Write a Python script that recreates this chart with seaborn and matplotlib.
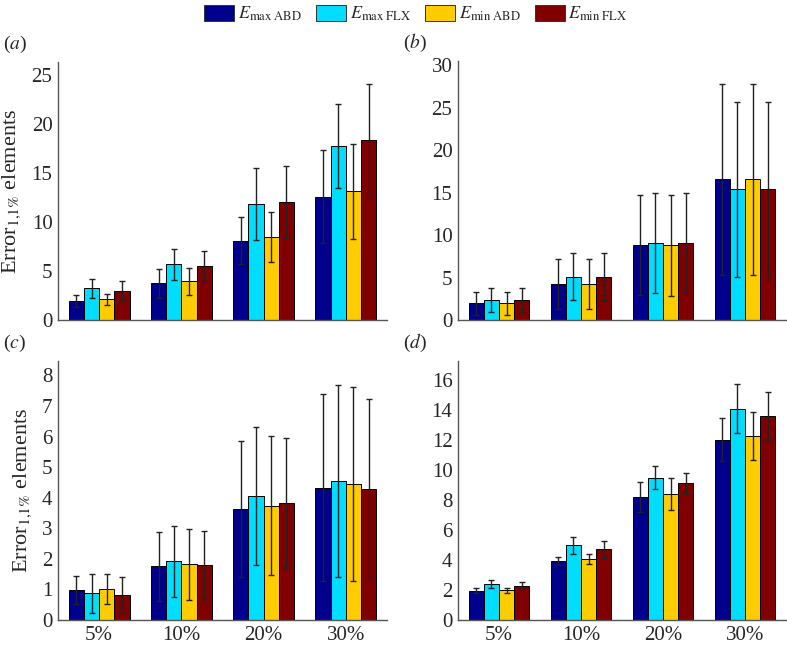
import numpy as np
import pandas as pd
import matplotlib
matplotlib.use("Agg")
import matplotlib.pyplot as plt
import seaborn as sns
from matplotlib.patches import Patch

# noise levels on the x axis
noise = ["5%", "10%", "20%", "30%"]
series = ["max ABD", "max FLX", "min ABD", "min FLX"]
colors = ["#00008C", "#00DDFF", "#FFCC00", "#800000"]

# panel (a)
a_vals = [[1.97, 3.74, 8.10, 12.55],
          [3.23, 5.68, 11.84, 17.72],
          [2.10, 3.95, 8.44, 13.13],
          [3.00, 5.51, 12.04, 18.30]]
a_err = [[0.60, 1.46, 2.40, 4.75],
         [1.00, 1.56, 3.70, 4.30],
         [0.60, 1.40, 2.55, 4.85],
         [0.95, 1.50, 3.70, 5.80]]

# panel (b)
b_vals = [[1.96, 4.24, 8.82, 16.59],
          [2.35, 5.10, 9.06, 15.41],
          [1.96, 4.24, 8.78, 16.59],
          [2.35, 5.10, 9.06, 15.41]]
b_err = [[1.37, 2.90, 5.90, 11.25],
         [1.40, 2.75, 5.90, 10.30],
         [1.37, 2.90, 5.95, 11.25],
         [1.40, 2.75, 5.90, 10.30]]

# panel (c)
c_vals = [[0.98, 1.76, 3.62, 4.33],
          [0.87, 1.92, 4.06, 4.56],
          [1.00, 1.82, 3.74, 4.46],
          [0.82, 1.80, 3.82, 4.29]]
c_err = [[0.47, 1.13, 2.22, 3.07],
         [0.64, 1.16, 2.25, 3.14],
         [0.49, 1.17, 2.28, 3.17],
         [0.60, 1.10, 2.13, 2.95]]

# panel (d)
d_vals = [[1.96, 3.96, 8.20, 12.05],
          [2.38, 4.99, 9.51, 14.12],
          [1.98, 4.05, 8.40, 12.27],
          [2.29, 4.72, 9.13, 13.63]]
d_err = [[0.16, 0.27, 1.00, 1.42],
         [0.27, 0.58, 0.76, 1.65],
         [0.18, 0.33, 1.07, 1.60],
         [0.22, 0.58, 0.71, 1.63]]

panels = [
    ("a", a_vals, a_err, 26.3, [0, 5, 10, 15, 20, 25]),
    ("b", b_vals, b_err, 30.5, [0, 5, 10, 15, 20, 25, 30]),
    ("c", c_vals, c_err, 8.47, list(range(0, 9))),
    ("d", d_vals, d_err, 17.3, list(range(0, 17, 2))),
]

sns.set_style("white")
plt.rcParams['font.family'] = ['Liberation Serif', 'DejaVu Serif']
plt.rcParams['mathtext.fontset'] = 'stix'

fig = plt.figure(figsize=(7.87, 6.45), dpi=100)
W, H = 787, 645
boxes = [(58, 62, 387, 320), (458, 61, 786, 320),
         (58, 361, 387, 620), (458, 361, 786, 620)]

for (lab, vals, errs, ytop, yt), (x0, y0, x1, y1) in zip(panels, boxes):
    ax = fig.add_axes([x0 / W, 1 - y1 / H, (x1 - x0) / W, (y1 - y0) / H])
    rows = []
    for s, v, e in zip(series, vals, errs):
        for n, vi, ei in zip(noise, v, e):
            rows.append({"noise": n, "series": s, "value": vi, "err": ei})
    df = pd.DataFrame(rows)
    sns.barplot(data=df, x="noise", y="value", hue="series", palette=colors,
                hue_order=series, order=noise, errorbar=None, width=0.74,
                saturation=1, edgecolor="black", linewidth=0.7, legend=False, ax=ax)
    # error bars on top of the bars seaborn placed
    for cont, e in zip(ax.containers, errs):
        xs = [b.get_x() + b.get_width() / 2 for b in cont]
        ys = [b.get_height() for b in cont]
        ax.errorbar(xs, ys, yerr=e, fmt="none", ecolor="#222222",
                    elinewidth=1.0, capsize=2.5, capthick=1.0)
    ax.set_xlim(-0.5, 3.5)
    ax.set_ylim(0, ytop)
    ax.set_yticks(yt)
    ax.tick_params(axis="both", length=0, labelsize=15, pad=4)
    ax.set_xlabel("")
    ax.set_ylabel("")
    for sp in ["top", "right"]:
        ax.spines[sp].set_visible(False)
    for sp in ["left", "bottom"]:
        ax.spines[sp].set_color("#555555")
        ax.spines[sp].set_linewidth(1.0)
    if lab in ("a", "b"):
        ax.set_xticklabels([])
    if lab in ("a", "c"):
        ax.set_ylabel(r"Error$_{\mathrm{1{,}1\%}}$ elements", fontsize=16, labelpad=6)
    fig.text((x0 - 55) / W, 1 - (y0 - 18) / H, "(" + r"$\it{" + lab + "}$" + ")",
             fontsize=14, va="center", ha="left")

handles = [Patch(facecolor=c, edgecolor="#333333", linewidth=0.7) for c in colors]
labels = [r"$E_{\mathrm{max\ ABD}}$", r"$E_{\mathrm{max\ FLX}}$",
          r"$E_{\mathrm{min\ ABD}}$", r"$E_{\mathrm{min\ FLX}}$"]
fig.legend(handles, labels, loc="center", bbox_to_anchor=(416 / W, 1 - 14 / H),
           ncol=4, frameon=False, fontsize=13, handlelength=1.65, handleheight=1.0,
           handletextpad=0.2, columnspacing=0.8)

fig.savefig("out.png", dpi=100)
